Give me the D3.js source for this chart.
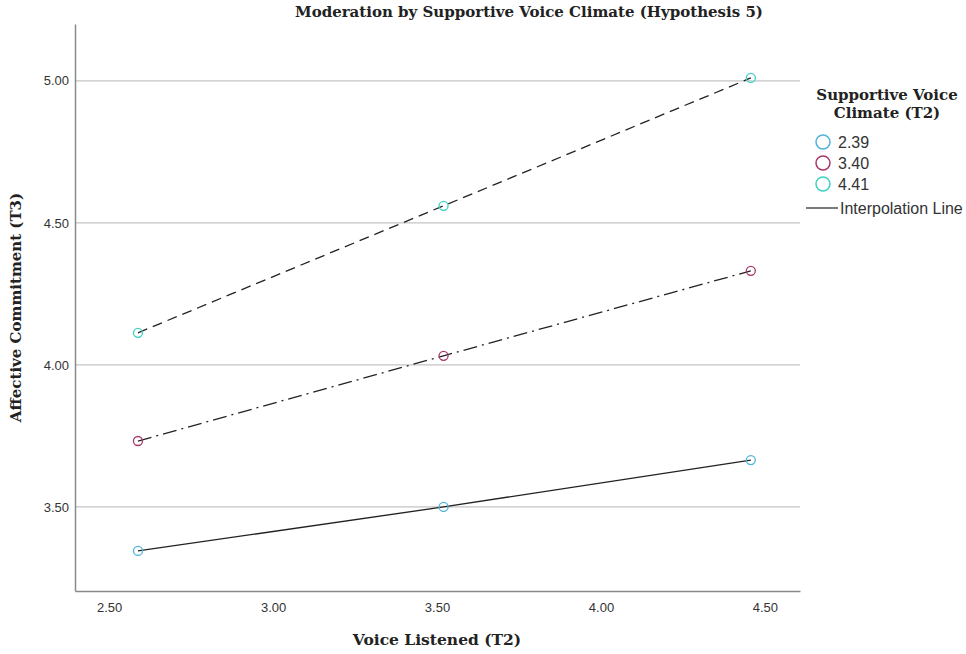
<!DOCTYPE html>
<html>
<head>
<meta charset="utf-8">
<script src="https://cdn.jsdelivr.net/npm/d3@7"></script>
<style>
  html, body { margin: 0; padding: 0; background: #fff; }
  svg { display: block; }
</style>
</head>
<body>
<div id="chart"></div>
<script>
// data
const xValues = [2.588, 3.52, 4.457];
const groups = ['2.39', '3.40', '4.41'];
const lowValues = [3.345, 3.50, 3.665];
const midValues = [3.732, 4.032, 4.331];
const highValues = [4.113, 4.56, 5.01];
const xTicks = [2.5, 3.0, 3.5, 4.0, 4.5];
const yTicks = [3.5, 4.0, 4.5, 5.0];

(function () {
  const width = 966, height = 654;
  const margin = { top: 24, right: 166, bottom: 63, left: 75 };
  const innerWidth = width - margin.left - margin.right;
  const innerHeight = height - margin.top - margin.bottom;

  const svg = d3.select('#chart').append('svg')
    .attr('width', width).attr('height', height);
  const g = svg.append('g').attr('transform', `translate(${margin.left},${margin.top})`);

  const x = d3.scaleLinear().domain([2.396, 4.607]).range([0, innerWidth]);
  const y = d3.scaleLinear().domain([3.204, 5.20]).range([innerHeight, 0]);

  const series = [
    { id: groups[0], values: lowValues, color: '#4fb3da', dash: null },
    { id: groups[1], values: midValues, color: '#a8386a', dash: '14,5,2,5' },
    { id: groups[2], values: highValues, color: '#3fd0c4', dash: '10,6' }
  ];

  // gridlines
  g.append('g').selectAll('line').data(yTicks).join('line')
    .attr('x1', 0).attr('x2', innerWidth)
    .attr('y1', d => y(d)).attr('y2', d => y(d))
    .attr('stroke', '#c4c4c4').attr('stroke-width', 1.2);

  // axes
  const gx = g.append('g').attr('transform', `translate(0,${innerHeight})`)
    .call(d3.axisBottom(x).tickValues(xTicks).tickFormat(d3.format('.2f')).tickSize(0).tickPadding(12));
  const gy = g.append('g')
    .call(d3.axisLeft(y).tickValues(yTicks).tickFormat(d3.format('.2f')).tickSize(0).tickPadding(6));
  [gx, gy].forEach(a => {
    a.select('.domain').attr('stroke', '#8a8a8a').attr('stroke-width', 1.5);
    a.selectAll('text').attr('font-family', '"Liberation Sans", Arial, sans-serif')
      .attr('font-size', 13).attr('fill', '#333');
  });

  const line = d3.line().x((d, i) => x(xValues[i])).y(d => y(d));

  g.append('g').selectAll('path').data(series).join('path')
    .attr('fill', 'none')
    .attr('stroke', '#222')
    .attr('stroke-width', 1.3)
    .attr('stroke-dasharray', d => d.dash)
    .attr('d', d => line(d.values));

  series.forEach(s => {
    g.append('g').selectAll('circle').data(s.values).join('circle')
      .attr('cx', (d, i) => x(xValues[i]))
      .attr('cy', d => y(d))
      .attr('r', 4.5)
      .attr('fill', 'none')
      .attr('stroke', s.color)
      .attr('stroke-width', 1.3);
  });

  const serif = '"DejaVu Serif", "Liberation Serif", serif';

  svg.append('text')
    .attr('x', 529).attr('y', 17)
    .attr('text-anchor', 'middle')
    .attr('font-family', serif).attr('font-weight', 'bold').attr('font-size', 15)
    .attr('fill', '#222')
    .text('Moderation by Supportive Voice Climate (Hypothesis 5)');

  svg.append('text')
    .attr('x', margin.left + x(3.5)).attr('y', 645)
    .attr('text-anchor', 'middle')
    .attr('font-family', serif).attr('font-weight', 'bold').attr('font-size', 15.5)
    .attr('fill', '#222')
    .text('Voice Listened (T2)');

  svg.append('text')
    .attr('transform', `translate(21,${margin.top + innerHeight / 2}) rotate(-90)`)
    .attr('text-anchor', 'middle')
    .attr('font-family', serif).attr('font-weight', 'bold').attr('font-size', 15)
    .attr('fill', '#222')
    .text('Affective Commitment (T3)');

  // legend
  const lg = svg.append('g');
  lg.append('text')
    .attr('x', 887).attr('y', 100)
    .attr('text-anchor', 'middle')
    .attr('font-family', serif).attr('font-weight', 'bold').attr('font-size', 15)
    .attr('fill', '#222')
    .selectAll('tspan').data(['Supportive Voice', 'Climate (T2)']).join('tspan')
    .attr('x', 887).attr('dy', (d, i) => i ? 18 : 0)
    .text(d => d);

  const items = lg.selectAll('g.item').data(series).join('g')
    .attr('class', 'item')
    .attr('transform', (d, i) => `translate(823,${142 + i * 21})`);
  items.append('circle').attr('r', 7).attr('fill', 'none')
    .attr('stroke', d => d.color).attr('stroke-width', 1.5);
  items.append('text').attr('x', 15).attr('y', 6)
    .attr('font-family', '"Liberation Sans", Arial, sans-serif').attr('font-size', 16)
    .attr('fill', '#333')
    .text(d => d.id);

  lg.append('line').attr('x1', 806).attr('x2', 838).attr('y1', 208).attr('y2', 208)
    .attr('stroke', '#333').attr('stroke-width', 1.3);
  lg.append('text').attr('x', 840).attr('y', 214)
    .attr('font-family', '"Liberation Sans", Arial, sans-serif').attr('font-size', 16)
    .attr('fill', '#333')
    .text('Interpolation Line');
})();
</script>
</body>
</html>
